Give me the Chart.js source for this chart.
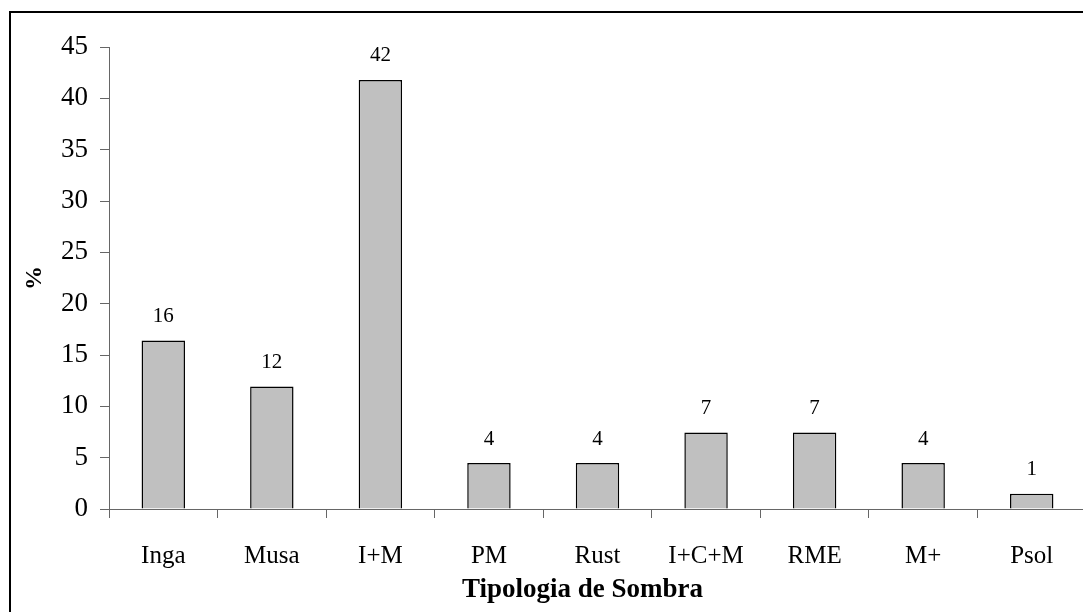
<!DOCTYPE html>
<html>
<head>
<meta charset="utf-8">
<title>Tipologia de Sombra</title>
<script src="https://cdn.jsdelivr.net/npm/chart.js@4/dist/chart.umd.min.js"></script>
<style>
  html, body { margin: 0; padding: 0; background: #fff; overflow: hidden; }
  #wrap { position: relative; width: 1095px; height: 612px; }
</style>
</head>
<body>
<div id="wrap"><canvas id="chart" width="1095" height="612"></canvas></div>
<script>
// Shade typology categories and share of farms (%)
const categories = ['Inga', 'Musa', 'I+M', 'PM', 'Rust', 'I+C+M', 'RME', 'M+', 'Psol'];
const percentages = [16.42, 11.94, 41.79, 4.48, 4.48, 7.46, 7.46, 4.48, 1.49];
const yTicks = [0, 5, 10, 15, 20, 25, 30, 35, 40, 45];
const xTitle = 'Tipologia de Sombra';
const yTitle = '%';

const serif = "'Liberation Serif', 'Times New Roman', serif";
Chart.defaults.font.family = serif;
Chart.defaults.color = '#000';

// Outer frame around the figure
const framePlugin = {
  id: 'frame',
  beforeDraw(chart) {
    const ctx = chart.ctx;
    ctx.save();
    ctx.fillStyle = '#fff';
    ctx.fillRect(0, 0, chart.width, chart.height);
    ctx.strokeStyle = '#000';
    ctx.lineWidth = 2;
    ctx.strokeRect(10, 12, 1300, 900);
    ctx.restore();
  }
};

// Rounded value printed above each bar
const valueLabels = {
  id: 'valueLabels',
  afterDatasetsDraw(chart) {
    const ctx = chart.ctx;
    const meta = chart.getDatasetMeta(0);
    const data = chart.data.datasets[0].data;
    ctx.save();
    ctx.font = '21px ' + serif;
    ctx.fillStyle = '#000';
    ctx.textAlign = 'center';
    ctx.textBaseline = 'alphabetic';
    meta.data.forEach((bar, i) => {
      ctx.fillText(String(Math.round(data[i])), bar.x, bar.y - 18.5);
    });
    ctx.restore();
  }
};

// Category-axis title, set a little left of the plot centre
const xTitlePlugin = {
  id: 'xTitle',
  afterDraw(chart) {
    const ctx = chart.ctx;
    const xs = chart.scales.x;
    ctx.save();
    ctx.font = 'bold 27px ' + serif;
    ctx.fillStyle = '#000';
    ctx.textAlign = 'center';
    ctx.textBaseline = 'alphabetic';
    ctx.fillText(xTitle, (xs.left + xs.right) / 2 - 15, 597);
    ctx.restore();
  }
};

new Chart(document.getElementById('chart'), {
  type: 'bar',
  data: {
    labels: categories,
    datasets: [{
      data: percentages,
      backgroundColor: '#C0C0C0',
      borderColor: '#000',
      borderWidth: 1.5,
      barPercentage: 0.4,
      categoryPercentage: 1.0
    }]
  },
  options: {
    responsive: false,
    animation: false,
    devicePixelRatio: 1,
    layout: { padding: { left: 0, top: 47, right: 9, bottom: 0 } },
    plugins: {
      legend: { display: false },
      tooltip: { enabled: false },
      title: { display: false }
    },
    scales: {
      x: {
        offset: true,
        grid: {
          offset: true,
          drawOnChartArea: false,
          drawTicks: true,
          tickLength: 9,
          color: '#666',
          lineWidth: 1
        },
        border: { display: true, color: '#666', width: 1 },
        ticks: {
          font: { size: 25, family: serif },
          color: '#000',
          padding: 23,
          maxRotation: 0,
          autoSkip: false
        },
        title: { display: false },
        afterFit(scale) { scale.height = 103; }
      },
      y: {
        min: 0,
        max: 45,
        afterBuildTicks(scale) { scale.ticks = yTicks.map(v => ({ value: v })); },
        grid: {
          drawOnChartArea: false,
          drawTicks: true,
          tickLength: 9,
          color: '#666',
          lineWidth: 1
        },
        border: { display: true, color: '#666', width: 1 },
        ticks: {
          font: { size: 27, family: serif },
          color: '#000',
          padding: 12
        },
        title: {
          display: true,
          text: yTitle,
          font: { size: 24, weight: 'bold', family: serif },
          color: '#000',
          padding: { top: 20, bottom: 0 }
        },
        afterFit(scale) { scale.width = 109; }
      }
    }
  },
  plugins: [framePlugin, valueLabels, xTitlePlugin]
});
</script>
</body>
</html>
